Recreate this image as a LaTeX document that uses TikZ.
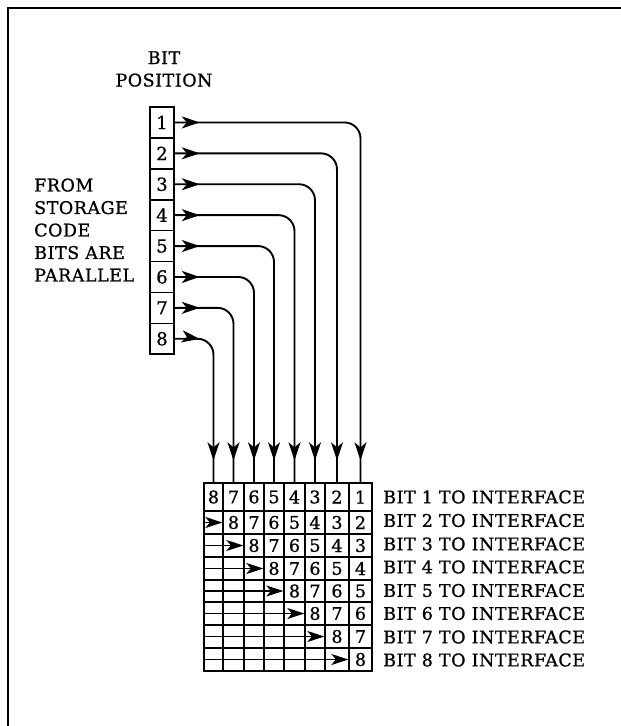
\documentclass[tikz,border=0pt]{standalone}
\usepackage{fontspec}
\setmainfont{DejaVu Serif}[LetterSpace=3,FakeBold=0.9]
\newfontfamily\digitfont{DejaVu Serif}[FakeBold=0.9]
\usetikzlibrary{arrows.meta,decorations.markings}
\begin{document}
\begin{tikzpicture}[x=1pt,y=-1pt,
  txt/.style={font=\fontsize{17.5}{22.5}\selectfont, inner sep=0pt},
  bitbox/.style={draw, line width=1.6pt, minimum width=24pt, minimum height=30.9pt, inner sep=0pt, font=\digitfont\fontsize{18}{18}\selectfont},
  cell/.style={draw, line width=1.3pt, inner sep=0pt, font=\digitfont\fontsize{17.5}{17.5}\selectfont},
  conn/.style={line width=1.9pt, rounded corners=16pt, postaction={decorate},
    decoration={markings,
      mark=at position 25pt with {\arrow{Stealth[length=18pt,width=12pt,inset=5pt]}},
      mark=at position -22pt with {\arrow{Stealth[length=18pt,width=12pt,inset=5pt]}}}},
  rowarrow/.style={line width=1.5pt, -{Stealth[length=17pt,width=11pt,inset=4.5pt]}},
  frame/.style={line width=1.7pt}
]
\useasboundingbox (0,0) rectangle (621,726);
% frame
\coordinate (fbl) at (8,726);
\coordinate (ftl) at (8,8);
\coordinate (ftr) at (621,8);
\draw[frame] (fbl) -- (ftl) -- (ftr);

% headings
\node[txt, align=center] (hdr) at (164,69) {BIT\\POSITION};
\node[txt, align=left, anchor=west] (src) at (34,230) {FROM\\STORAGE\\CODE\\BITS ARE\\PARALLEL};

% bit position boxes
\foreach \i in {1,...,8}
  \node[bitbox] (b\i) at (162,{107+30.9*(\i-0.5)}) {\i};

% grid of cells
\foreach \r/\yt/\yb in {1/483/511, 2/511/534, 3/534/557, 4/557/580, 5/580/602, 6/602/625, 7/625/648, 8/648/671}{
  \foreach \c/\xl/\xr in {1/204/223, 2/223/244, 3/244/264, 4/264/284, 5/284/305, 6/305/325, 7/325/349, 8/349/372}{
    \pgfmathtruncatemacro\v{8-\c+\r}
    \pgfmathsetmacro\w{\xr-\xl}
    \pgfmathsetmacro\h{\yb-\yt}
    \ifnum\c<\r \def\lab{}\else \edef\lab{\v}\fi
    \node[cell, minimum width=\w pt, minimum height=\h pt] (c-\r-\c) at ({(\xl+\xr)/2},{(\yt+\yb)/2}) {\lab};
  }
}

% row labels
\foreach \r/\y in {1/497, 2/520.5, 3/544, 4/567, 5/590.5, 6/613.5, 7/637, 8/660}
  \node[txt, anchor=west] (l\r) at (383,\y) {BIT \r\ TO INTERFACE};

% shifting arrows inside the grid
\foreach \r in {2,...,8}
  \draw[rowarrow] (c-\r-1.west) -- (c-\r-\r.west);

% connectors from bit positions to the grid
\foreach \i in {1,...,8}{
  \pgfmathtruncatemacro\cc{9-\i}
  \draw[conn] (b\i.east) -| (c-1-\cc.north);
}
\end{tikzpicture}
\end{document}
